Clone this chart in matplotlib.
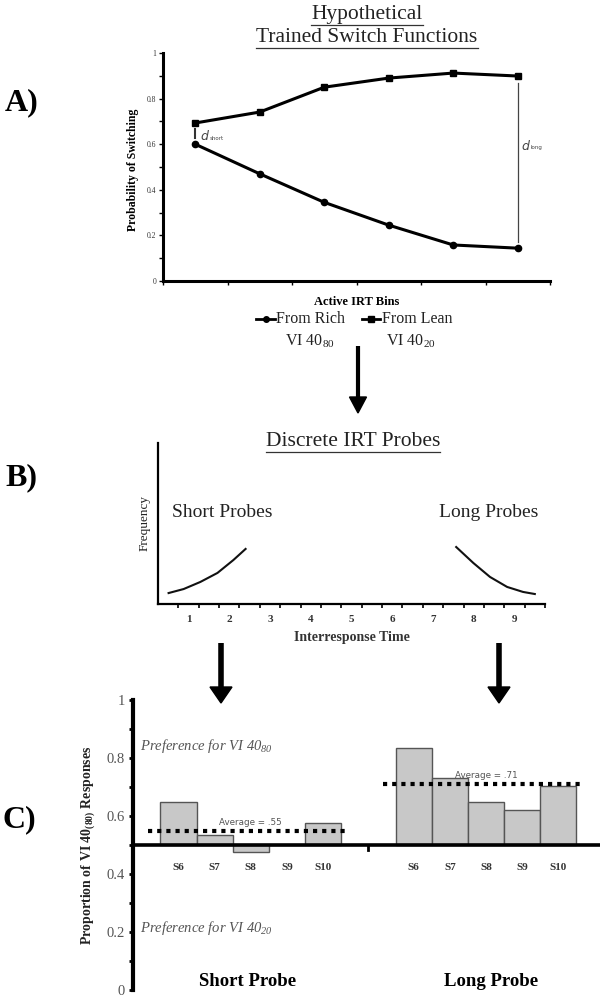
import numpy as np
import matplotlib
matplotlib.use('Agg')
import matplotlib.pyplot as plt
from matplotlib.lines import Line2D
from matplotlib.patches import Polygon

plt.rcParams['font.family'] = ['Liberation Serif', 'DejaVu Serif']
plt.rcParams['mathtext.fontset'] = 'custom'
plt.rcParams['mathtext.rm'] = 'Liberation Serif'
plt.rcParams['mathtext.it'] = 'Liberation Serif:italic'
plt.rcParams['mathtext.bf'] = 'Liberation Serif:bold'
plt.rcParams['mathtext.default'] = 'regular'

# ---------------- data ----------------
# Panel A: hypothetical trained switch functions
irt_bins = [1, 2, 3, 4, 5, 6]
from_rich = [0.600, 0.470, 0.345, 0.245, 0.158, 0.144]
from_lean = [0.693, 0.741, 0.850, 0.890, 0.912, 0.899]

# Panel B: discrete IRT probe distributions
short_probe_x = [0.51, 0.88, 1.29, 1.71, 2.10, 2.40]
short_probe_y = [0.068, 0.093, 0.137, 0.193, 0.273, 0.342]
long_probe_x = [7.57, 7.99, 8.40, 8.82, 9.21, 9.50]
long_probe_y = [0.354, 0.255, 0.168, 0.106, 0.075, 0.062]
irt_tick_labels = ['1', '2', '3', '4', '5', '6', '7', '8', '9']

# Panel C: proportion of VI 40(80) responses
subjects = ['S6', 'S7', 'S8', 'S9', 'S10']
short_prop = [0.647, 0.534, 0.475, 0.500, 0.577]
long_prop = [0.833, 0.730, 0.647, 0.621, 0.703]
avg_short = 0.55
avg_long = 0.71

# ---------------- layout helpers ----------------
W, H = 611, 999
fig = plt.figure(figsize=(W / 100, H / 100), dpi=100)


def rect(l, t, r, b):
    return [l / W, 1 - b / H, (r - l) / W, (b - t) / H]


def ftext(x, y, s, **kw):
    kw.setdefault('ha', 'center')
    kw.setdefault('va', 'center')
    return fig.text(x / W, 1 - y / H, s, **kw)


# ---------------- Panel A ----------------
axA = fig.add_axes(rect(163, 53, 550, 281))
xa = np.array(irt_bins) - 0.5
axA.plot(xa, from_rich, '-o', color='black', lw=2.2, ms=4.5, zorder=3)
axA.plot(xa, from_lean, '-s', color='black', lw=2.2, ms=4.5, zorder=3)
axA.set_xlim(0, 6)
axA.set_ylim(0, 1)
for s in ['top', 'right']:
    axA.spines[s].set_visible(False)
for s in ['left', 'bottom']:
    axA.spines[s].set_linewidth(2.2)
axA.set_yticks(np.arange(0, 1.01, 0.2))
axA.set_yticklabels(['0', '0.2', '0.4', '0.6', '0.8', '1'], fontsize=5.5, color='#333')
axA.set_yticks(np.arange(0.1, 1.0, 0.2), minor=True)
axA.set_xticks(np.arange(0, 7, 1))
axA.set_xticklabels([])
axA.tick_params(axis='both', which='both', direction='out', length=3, width=1, pad=2)
# distance markers
axA.plot([xa[0], xa[0]], [0.665, 0.628], color='#333', lw=1.5)
axA.plot([xa[-1], xa[-1]], [0.868, 0.171], color='#444', lw=0.9)
axA.text(xa[0] + 0.08, 0.632, 'd', family='DejaVu Sans', style='italic', fontsize=9,
         color='#444', va='center', ha='left')
axA.text(xa[0] + 0.22, 0.627, 'short', family='DejaVu Sans', fontsize=4, color='#444',
         va='center', ha='left')
axA.text(xa[-1] + 0.05, 0.59, 'd', family='DejaVu Sans', style='italic', fontsize=9,
         color='#444', va='center', ha='left')
axA.text(xa[-1] + 0.19, 0.585, 'long', family='DejaVu Sans', fontsize=4, color='#444',
         va='center', ha='left')

ftext(133, 170, 'Probability of Switching', rotation=90, fontsize=8.5, weight='bold')
ftext(357, 302, 'Active IRT Bins', fontsize=9, weight='bold')
ftext(310, 319, 'From Rich', fontsize=11.5, color='#222')
ftext(310, 341, 'VI 40$_{80}$', fontsize=11.5, color='#222')
ftext(417, 319, 'From Lean', fontsize=11.5, color='#222')
ftext(411, 341, 'VI 40$_{20}$', fontsize=11.5, color='#222')
t_hyp = ftext(367, 15, 'Hypothetical', fontsize=15.5, color='#222')
t_tsf = ftext(367, 38, 'Trained Switch Functions', fontsize=15.5, color='#222')
ftext(22, 103, 'A)', fontsize=23, weight='bold')

# ---------------- Panel B ----------------
axB = fig.add_axes(rect(158, 443, 545, 604))
axB.plot(short_probe_x, short_probe_y, color='#111', lw=1.5)
axB.plot(long_probe_x, long_probe_y, color='#111', lw=1.5)
axB.set_xlim(0.25, 9.75)
axB.set_ylim(0, 1)
for s in ['top', 'right']:
    axB.spines[s].set_visible(False)
for s in ['left', 'bottom']:
    axB.spines[s].set_linewidth(1.6)
axB.set_yticks([])
axB.set_xticks(np.arange(1, 10))
axB.set_xticklabels(irt_tick_labels, fontsize=8, weight='bold', color='#333')
axB.set_xticks(np.arange(0.75, 9.8, 0.5), minor=True)
axB.tick_params(axis='x', which='major', length=0, pad=8)
axB.tick_params(axis='x', which='minor', length=3, width=1.2, direction='out')
axB.text(0.60, 0.57, 'Short Probes', fontsize=14, ha='left', va='center', color='#222')
axB.text(7.15, 0.57, 'Long Probes', fontsize=14, ha='left', va='center', color='#222')
ftext(145, 523, 'Frequency', rotation=90, fontsize=9.5, color='#222')
ftext(352, 637, 'Interresponse Time', fontsize=10, weight='bold', color='#333')
t_dip = ftext(353, 442, 'Discrete IRT Probes', fontsize=15.5, color='#222')
ftext(21, 478, 'B)', fontsize=23, weight='bold')

# ---------------- Panel C ----------------
axC = fig.add_axes(rect(133, 700, 600, 990))
xs = np.arange(len(subjects))
xl = xs + 6.5
axC.bar(xs, np.array(short_prop) - 0.5, bottom=0.5, width=1.0, color='#c8c8c8',
        edgecolor='#555', lw=1.0, zorder=2)
axC.bar(xl, np.array(long_prop) - 0.5, bottom=0.5, width=1.0, color='#c8c8c8',
        edgecolor='#555', lw=1.0, zorder=2)
axC.axhline(0.5, color='black', lw=2.6, zorder=3)
axC.plot([xs[0] - 0.84, xs[-1] + 0.66], [avg_short, avg_short], color='black', lw=3,
         dashes=(1, 1.2), dash_capstyle='butt', zorder=4)
axC.plot([xl[0] - 0.84, xl[-1] + 0.66], [avg_long, avg_long], color='black', lw=3,
         dashes=(1, 1.2), dash_capstyle='butt', zorder=4)
axC.text(xs[2], 0.579, 'Average = .55', family='DejaVu Sans', fontsize=6.3, color='#555',
         ha='center', va='center')
axC.text(xl[2], 0.741, 'Average = .71', family='DejaVu Sans', fontsize=6.3, color='#555',
         ha='center', va='center')
for x, lab in zip(list(xs) + list(xl), subjects + subjects):
    axC.text(x, 0.424, lab, fontsize=8, weight='bold', color='#333', ha='center', va='center')
axC.plot([5.24, 5.24], [0.5, 0.484], color='black', lw=2)
axC.set_xlim(-1.257, 11.65)
axC.set_ylim(0, 1)
for s in ['top', 'right', 'bottom']:
    axC.spines[s].set_visible(False)
axC.spines['left'].set_linewidth(3)
axC.set_xticks([])
axC.set_yticks(np.arange(0, 1.01, 0.2))
axC.set_yticklabels(['0', '0.2', '0.4', '0.6', '0.8', '1'], fontsize=10.5, color='#555')
axC.set_yticks(np.arange(0.1, 1.0, 0.2), minor=True)
axC.tick_params(axis='y', which='both', direction='out', length=3, width=2, pad=3)
axC.text(-1.06, 0.841, 'Preference for VI 40$_{80}$', fontsize=10.5, style='italic',
         color='#555', ha='left', va='center')
axC.text(-1.06, 0.214, 'Preference for VI 40$_{20}$', fontsize=10.5, style='italic',
         color='#555', ha='left', va='center')
axC.text(1.92, 0.028, 'Short Probe', fontsize=13.5, weight='bold', ha='center', va='center')
axC.text(8.63, 0.028, 'Long Probe', fontsize=13.5, weight='bold', ha='center', va='center')
ftext(88, 845, 'Proportion of VI 40$_{(80)}$ Responses', rotation=90, fontsize=10,
      weight='bold', color='#222')
ftext(19, 820, 'C)', fontsize=23, weight='bold')

# ---------------- overlay: arrows, legend handles, underlines ----------------
ov = fig.add_axes([0, 0, 1, 1], zorder=10)
ov.set_xlim(0, W)
ov.set_ylim(H, 0)
ov.axis('off')
ov.patch.set_alpha(0)


def arrow(x, y0, y1, shaft_w, head_w, head_l):
    ov.plot([x, x], [y0, y1 - head_l + 1], color='black', lw=shaft_w, solid_capstyle='butt')
    ov.add_patch(Polygon([[x - head_w / 2, y1 - head_l], [x + head_w / 2, y1 - head_l],
                          [x, y1]], closed=True, color='black'))


arrow(358, 346, 413, 3.0, 17, 16)
arrow(221, 643, 703, 4.0, 22, 16)
arrow(499, 643, 703, 4.0, 22, 16)

# legend handles
ov.plot([256, 275], [319, 319], color='black', lw=2)
ov.plot([265.5], [319], 'o', color='black', ms=4)
ov.plot([362, 380], [319, 319], color='black', lw=2)
ov.plot([371], [319], 's', color='black', ms=4)

# underlines
fig.canvas.draw()
r = fig.canvas.get_renderer()
for t in [t_hyp, t_tsf, t_dip]:
    bb = t.get_window_extent(renderer=r)
    yb = H - bb.y0 + 0.5
    ov.plot([bb.x0, bb.x1], [yb, yb], color='#333', lw=0.9)

fig.savefig('out.png', dpi=100)
